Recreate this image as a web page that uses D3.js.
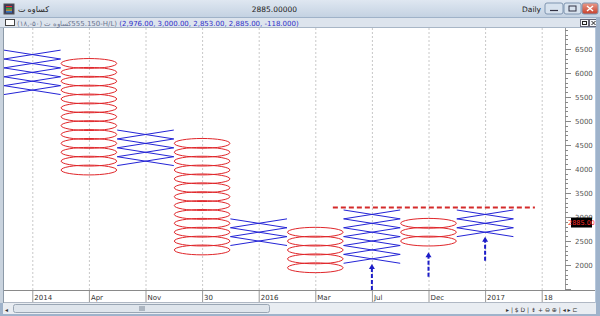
<!DOCTYPE html>
<html>
<head>
<meta charset="utf-8">
<script src="https://cdn.jsdelivr.net/npm/d3@7"></script>
<style>
  body { margin: 0; background: #fff; }
  svg { display: block; font-family: "DejaVu Sans", "Noto Sans", sans-serif; }
</style>
</head>
<body>
<svg id="chart" width="600" height="316"></svg>
<script>
// point & figure columns (box low / box high in price)
const colLabels = ["2014", "Apr", "Nov", "30", "2016", "Mar", "Jul", "Dec", "2017", "18"];
const colTypes = ["X", "O", "X", "O", "X", "O", "X", "O", "X"];
const colLow = [5551, 3886, 4071, 2221, 2406, 1850, 2036, 2406, 2591];
const colHigh = [6477, 6292, 4811, 4626, 2961, 2776, 3146, 2961, 3146];
const boxSize = 185.05;

const priceTicks = [2000, 2500, 3000, 3500, 4000, 4500, 5000, 5500, 6000, 6500];
const lastPrice = 2885;

// buy signals (dashed arrows) under columns
const signalCols = ["Jul", "Dec", "2017"];
const signalTip = [2020, 2265, 2590];
const signalTail = [1480, 1755, 2090];

// resistance line (column-index span)
const resistance = 3200;
const resistanceSpan = [5.81, 9.38];

const width = 600, height = 316;
const plot = { left: 4, right: 565, top: 28, bottom: 290 };

const svg = d3.select("#chart");

// ---------- window chrome ----------
const defs = svg.append("defs");
const tg = defs.append("linearGradient").attr("id", "titleGrad").attr("x1", 0).attr("y1", 0).attr("x2", 0).attr("y2", 1);
tg.append("stop").attr("offset", "0%").attr("stop-color", "#dfe7f1");
tg.append("stop").attr("offset", "100%").attr("stop-color", "#c4d2e2");
const cg = defs.append("linearGradient").attr("id", "closeGrad").attr("x1", 0).attr("y1", 0).attr("x2", 0).attr("y2", 1);
cg.append("stop").attr("offset", "0%").attr("stop-color", "#e99a8a");
cg.append("stop").attr("offset", "100%").attr("stop-color", "#c8412c");
defs.append("clipPath").attr("id", "plotClip").append("rect")
    .attr("x", plot.left).attr("y", plot.top)
    .attr("width", plot.right - plot.left).attr("height", plot.bottom - plot.top);

svg.append("rect").attr("width", width).attr("height", height).attr("fill", "#b7c8dc");
svg.append("rect").attr("x", 0).attr("y", 0).attr("width", width).attr("height", 17).attr("fill", "url(#titleGrad)");
svg.append("line").attr("x1", 0).attr("x2", width).attr("y1", 17.5).attr("y2", 17.5).attr("stroke", "#9fb2c8");

// title icon
const icon = svg.append("g").attr("transform", "translate(4,4)");
icon.append("rect").attr("width", 10).attr("height", 10).attr("fill", "#3a3a5a").attr("stroke", "#555");
["#e33", "#3c3", "#fc3", "#39f"].forEach((c, i) => {
    icon.append("line").attr("x1", 2).attr("x2", 8).attr("y1", 2.5 + i * 1.8).attr("y2", 2.5 + i * 1.8)
        .attr("stroke", c).attr("stroke-width", 1);
});
svg.append("text").attr("x", 18).attr("y", 12).attr("font-size", 8).attr("fill", "#222")
    .attr("font-family", "'Noto Sans', 'DejaVu Sans', sans-serif").text("کساوه ت");
svg.append("text").attr("x", 297).attr("y", 12).attr("font-size", 7.5).attr("text-anchor", "end")
    .attr("fill", "#222").text("2885.00000");
svg.append("text").attr("x", 541).attr("y", 12).attr("font-size", 7.5).attr("text-anchor", "end")
    .attr("fill", "#222").text("Daily");

// window buttons
const btns = [{ x: 545, w: 18 }, { x: 564, w: 17 }, { x: 582, w: 16 }];
btns.forEach((b, i) => {
    svg.append("rect").attr("x", b.x).attr("y", 3).attr("width", b.w).attr("height", 11).attr("rx", 2)
        .attr("fill", i === 2 ? "url(#closeGrad)" : "#d7e2ee").attr("stroke", "#7f95b0");
});
svg.append("line").attr("x1", 550).attr("x2", 558).attr("y1", 10.5).attr("y2", 10.5).attr("stroke", "#334").attr("stroke-width", 1.2);
svg.append("rect").attr("x", 569).attr("y", 6).attr("width", 7).attr("height", 5).attr("fill", "none").attr("stroke", "#334");
svg.append("path").attr("d", "M587,6 L593,11 M593,6 L587,11").attr("stroke", "#fff").attr("stroke-width", 1.5);

// sub-header bar
svg.append("rect").attr("x", 0).attr("y", 18).attr("width", width).attr("height", 10).attr("fill", "#dde4ed");
svg.append("line").attr("x1", 0).attr("x2", width).attr("y1", 27.5).attr("y2", 27.5).attr("stroke", "#a8b6c6");
svg.append("rect").attr("x", 5.5).attr("y", 19.5).attr("width", 9).attr("height", 6).attr("fill", "#fff").attr("stroke", "#444");
const sub = svg.append("text").attr("x", 17).attr("y", 25.5).attr("font-size", 7).attr("direction", "ltr");
sub.append("tspan").attr("fill", "#6a7590").text("(۱۸,-۵۰) ");
sub.append("tspan").attr("fill", "#6a7590").attr("font-family", "'Noto Sans', sans-serif").text("کساوه ت");
sub.append("tspan").attr("fill", "#6a7590").text("\u200E555.150-H/L) ");
sub.append("tspan").attr("fill", "#2f2fc8").text("(2,976.00, 3,000.00, 2,853.00, 2,885.00, -118.000)");
[580, 589].forEach((x, i) => {
    svg.append("rect").attr("x", x + 0.5).attr("y", 19.5).attr("width", 8).attr("height", 7).attr("fill", "#f4f6f9").attr("stroke", "#667");
});
svg.append("rect").attr("x", 582.5).attr("y", 21.5).attr("width", 4).attr("height", 3).attr("fill", "none").attr("stroke", "#222");
svg.append("path").attr("d", "M591.5,21 L595.5,25 M595.5,21 L591.5,25").attr("stroke", "#222");

// main white panel (plot + y axis + x axis strip)
svg.append("rect").attr("x", 4).attr("y", 28).attr("width", 591).attr("height", 275).attr("fill", "#fff");
svg.append("rect").attr("x", 0).attr("y", 28).attr("width", 4).attr("height", 275).attr("fill", "#c9d3de");
svg.append("line").attr("x1", 3.5).attr("x2", 3.5).attr("y1", 28).attr("y2", 303).attr("stroke", "#8c9aa8");

// ---------- scales ----------
const x = d3.scaleBand().domain(colLabels).range([4, 570]).padding(0);
const bw = x.bandwidth();
const xIdx = d3.scaleLinear().domain([0, colLabels.length]).range([4, 570]);
const y = d3.scaleLinear().domain([2000, 6500]).range([265, 49]);

// vertical dashed grid at column centers
svg.append("g").selectAll("line").data(colLabels).join("line")
    .attr("x1", d => x(d) + bw / 2 + 0.5).attr("x2", d => x(d) + bw / 2 + 0.5)
    .attr("y1", plot.top).attr("y2", plot.bottom)
    .attr("stroke", "#c8c8c8").attr("stroke-dasharray", "2,2");

// ---------- boxes ----------
const boxes = [];
colTypes.forEach((t, i) => {
    const n = Math.round((colHigh[i] - colLow[i]) / boxSize);
    for (let k = 0; k < n; k++) {
        const lo = colLow[i] + k * boxSize;
        boxes.push({ col: colLabels[i], type: t, lo: lo, hi: lo + boxSize });
    }
});

const g = svg.append("g").attr("clip-path", "url(#plotClip)");

g.selectAll(".xbox").data(boxes.filter(b => b.type === "X")).join("path")
    .attr("class", "xbox")
    .attr("d", b => {
        const x0 = x(b.col), x1 = x(b.col) + bw;
        return `M${x0},${y(b.hi)} L${x1},${y(b.lo)} M${x0},${y(b.lo)} L${x1},${y(b.hi)}`;
    })
    .attr("fill", "none").attr("stroke", "#2424d6").attr("stroke-width", 1);

g.selectAll(".obox").data(boxes.filter(b => b.type === "O")).join("ellipse")
    .attr("class", "obox")
    .attr("cx", b => x(b.col) + bw / 2)
    .attr("cy", b => y((b.lo + b.hi) / 2))
    .attr("rx", bw / 2 - 0.5)
    .attr("ry", 4.9)
    .attr("fill", "none").attr("stroke", "#e0262a").attr("stroke-width", 1);

// resistance line
g.append("line")
    .attr("x1", xIdx(resistanceSpan[0])).attr("x2", xIdx(resistanceSpan[1]))
    .attr("y1", y(resistance)).attr("y2", y(resistance))
    .attr("stroke", "#d42a2a").attr("stroke-width", 2).attr("stroke-dasharray", "5,3");

// signal arrows
signalCols.forEach((c, i) => {
    const cx = x(c) + bw / 2;
    g.append("line").attr("x1", cx).attr("x2", cx)
        .attr("y1", y(signalTail[i])).attr("y2", y(signalTip[i]) + 4)
        .attr("stroke", "#1c1cc8").attr("stroke-width", 2).attr("stroke-dasharray", "4,2");
    g.append("path")
        .attr("d", `M${cx},${y(signalTip[i])} L${cx - 3},${y(signalTip[i]) + 5} L${cx + 3},${y(signalTip[i]) + 5} Z`)
        .attr("fill", "#1c1cc8");
});

// ---------- y axis ----------
const yAxis = svg.append("g");
yAxis.append("line").attr("x1", plot.right + 0.5).attr("x2", plot.right + 0.5)
    .attr("y1", plot.top).attr("y2", plot.bottom).attr("stroke", "#999");
const minor = d3.range(1500, 6901, 100);
yAxis.selectAll(".minor").data(minor).join("line")
    .attr("x1", plot.right).attr("x2", d => plot.right + (d % 500 === 0 ? 6 : 3))
    .attr("y1", d => Math.round(y(d)) + 0.5).attr("y2", d => Math.round(y(d)) + 0.5)
    .attr("stroke", "#888");
yAxis.selectAll(".lbl").data(priceTicks).join("text")
    .attr("x", 575).attr("y", d => y(d) + 2.5)
    .attr("font-size", 7).attr("fill", "#555").text(d => d);

// last price box
svg.append("rect").attr("x", 571).attr("y", y(lastPrice) - 5).attr("width", 21).attr("height", 10).attr("fill", "#000");
svg.append("text").attr("x", 581.5).attr("y", y(lastPrice) + 2.5).attr("text-anchor", "middle")
    .attr("font-size", 6.5).attr("fill", "#ff2a2a").text(lastPrice.toFixed(2));

// ---------- x axis strip ----------
svg.append("line").attr("x1", 4).attr("x2", 595).attr("y1", 290.5).attr("y2", 290.5).attr("stroke", "#8a8a8a");
svg.append("line").attr("x1", 4).attr("x2", 595).attr("y1", 302.5).attr("y2", 302.5).attr("stroke", "#b0b8c4");
const xAxis = svg.append("g");
xAxis.selectAll("line").data(colLabels).join("line")
    .attr("x1", d => x(d) + bw / 2 + 0.5).attr("x2", d => x(d) + bw / 2 + 0.5)
    .attr("y1", 291).attr("y2", 302).attr("stroke", "#999");
xAxis.selectAll("text").data(colLabels).join("text")
    .attr("x", d => x(d) + bw / 2 + 2).attr("y", 299.5)
    .attr("font-size", 7).attr("fill", "#333").text(d => d);

// ---------- scrollbar ----------
svg.append("rect").attr("x", 0).attr("y", 303).attr("width", width).attr("height", 13).attr("fill", "#e9edf2");
svg.append("rect").attr("x", 0).attr("y", 303).attr("width", 3).attr("height", 13).attr("fill", "#9fb3cb");
svg.append("rect").attr("x", 596).attr("y", 18).attr("width", 4).attr("height", 298).attr("fill", "#9fb3cb");
svg.append("rect").attr("x", 0).attr("y", 314).attr("width", width).attr("height", 2).attr("fill", "#9fb3cb");
svg.append("text").attr("x", 5).attr("y", 311.5).attr("font-size", 6).attr("fill", "#333").text("◂");
svg.append("rect").attr("x", 13.5).attr("y", 304.5).attr("width", 256).attr("height", 8).attr("rx", 2)
    .attr("fill", "#dfe5ec").attr("stroke", "#9aa6b4");
svg.append("path").attr("d", "M140,306 v5 M142,306 v5 M144,306 v5").attr("stroke", "#7a8796");
svg.append("text").attr("x", 506).attr("y", 311.5).attr("font-size", 6).attr("fill", "#333")
    .text("▸ | $ D | ⇟ + ⊖ ⊕ | ◂ ▸ ⊏");
</script>
</body>
</html>
